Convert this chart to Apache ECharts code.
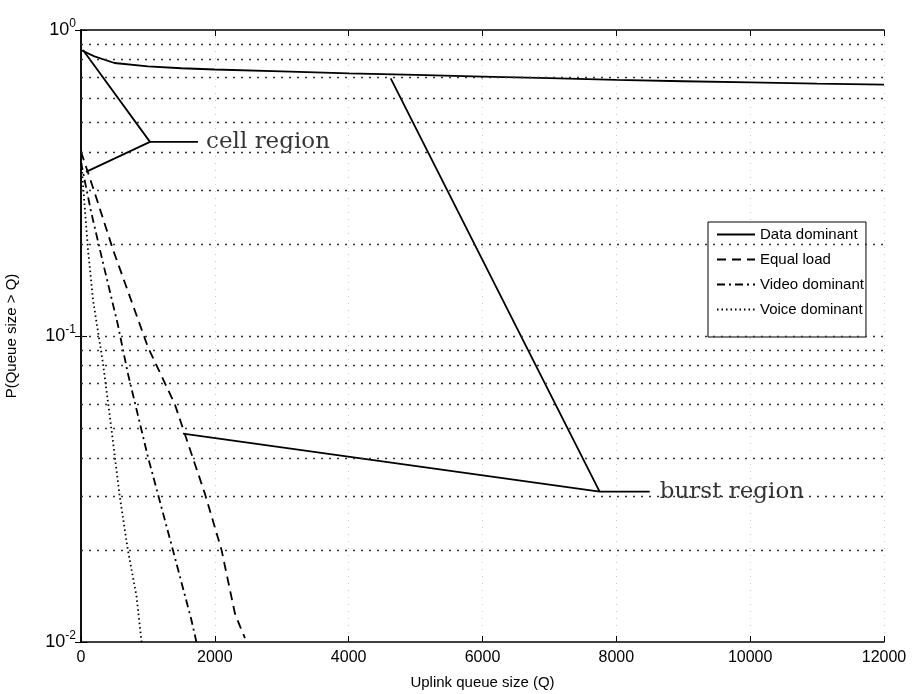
<!DOCTYPE html>
<html>
<head>
<meta charset="utf-8">
<script src="https://cdn.jsdelivr.net/npm/echarts@6/dist/echarts.min.js"></script>
<style>
html,body{margin:0;padding:0;background:#fff;}
#chart{width:913px;height:694px;}
</style>
</head>
<body>
<div id="chart"></div>
<script>
// curves: [Q, P(queue > Q)]
var dataDominant = [[0,0.86],[200,0.82],[500,0.78],[1000,0.76],[1500,0.75],[2000,0.743],[3000,0.733],[4000,0.722],[5000,0.713],[6000,0.704],[7000,0.696],[8000,0.687],[9000,0.68],[10000,0.674],[11000,0.668],[12000,0.663]];
var equalLoad = [[0,0.40],[200,0.296],[480,0.191],[1000,0.092],[1400,0.060],[1850,0.0306],[2100,0.020],[2300,0.0124],[2380,0.0112],[2450,0.0103]];
var videoDominant = [[0,0.37],[150,0.255],[330,0.173],[550,0.109],[700,0.0755],[1000,0.0403],[1400,0.019],[1650,0.0118],[1725,0.010]];
var voiceDominant = [[0,0.38],[55,0.265],[105,0.191],[180,0.131],[330,0.081],[450,0.0506],[580,0.0298],[700,0.020],[830,0.0141],[905,0.010]];
var seriesNames = ['Data dominant','Equal load','Video dominant','Voice dominant'];

// dotted horizontal grid at 2..9 of each decade
var gridVals = [0.02,0.03,0.04,0.05,0.06,0.07,0.08,0.09,0.1,0.2,0.3,0.4,0.5,0.6,0.7,0.8,0.9];
var xTicks = [0,2000,4000,6000,8000,10000,12000];

// annotation pointers
var cellLines = [[30,0.86],[1031,0.431],[75,0.344]];
var cellStub = [[1031,0.431],[1748,0.431]];
var burstLines = [[4628,0.695],[7750,0.031],[1524,0.048]];
var burstStub = [[7750,0.031],[8500,0.031]];
var notes = [[1780,0.431,'cell region'],[8560,0.031,'burst region']];

var chart = echarts.init(document.getElementById('chart'));
var fontSans = 'Liberation Sans';

function supLabel(v){
    var e = Math.round(Math.log(v)/Math.LN10);
    return '{b|10}{s|' + (e === 0 ? '0' : '-' + (-e)) + '}';
}

function lineSeries(name, data, type){
    return {
        name: name,
        type: 'line',
        data: data,
        symbol: 'none',
        showSymbol: false,
        color: '#000',
        itemStyle: {color:'#000'},
        lineStyle: {color:'#000', width:1.8, type:type},
        z: 3
    };
}
function plainLine(data){
    return {type:'line', data:data, symbol:'none', silent:true, color:'#000', lineStyle:{color:'#000', width:1.8}, z:4};
}

var series = [
    lineSeries(seriesNames[0], dataDominant, 'solid'),
    lineSeries(seriesNames[1], equalLoad, [9,6]),
    lineSeries(seriesNames[2], videoDominant, [8,4,2,4]),
    lineSeries(seriesNames[3], voiceDominant, [1.5,3])
];
series[0].markLine = {
    silent: true,
    symbol: 'none',
    label: {show:false},
    lineStyle: {color:'#333', width:1.3, type:[2,6]},
    data: gridVals.map(function(v){ return {yAxis:v}; })
};
series.push(plainLine(cellLines), plainLine(cellStub), plainLine(burstLines), plainLine(burstStub));
series.push({
    type: 'scatter',
    data: notes,
    symbolSize: 0,
    silent: true,
    label: {
        show: true,
        position: 'right',
        distance: 6,
        formatter: function(p){ return p.data[2]; },
        fontFamily: 'DejaVu Serif',
        fontSize: 23,
        color: '#000'
    }
});

var option = {
    animation: false,
    backgroundColor: '#fff',
    grid: {left:81, right:29, top:30, bottom:52, outerBoundsMode:'none', containLabel:false},
    legend: {
        data: seriesNames,
        orient: 'vertical',
        left: 708,
        top: 222,
        itemWidth: 38,
        itemHeight: 14,
        itemGap: 10,
        padding: [5,2,20,8],
        backgroundColor: '#fff',
        borderColor: '#000',
        borderWidth: 1,
        itemStyle: {opacity:0},
        textStyle: {fontFamily:fontSans, fontSize:15, color:'#000'}
    },
    xAxis: [{
        type: 'value',
        min: 0, max: 12000, interval: 2000,
        name: 'Uplink queue size (Q)',
        nameLocation: 'middle',
        nameGap: 33,
        nameTextStyle: {fontFamily:fontSans, fontSize:15, color:'#000'},
        axisLine: {lineStyle:{color:'#000', width:1.5}},
        axisTick: {inside:true, length:6, lineStyle:{color:'#000'}},
        axisLabel: {fontFamily:fontSans, fontSize:16, color:'#000', margin:8,
            formatter: function(v){ return xTicks.indexOf(v) >= 0 ? String(v) : ''; }},
        splitLine: {show:true, lineStyle:{color:'#ccc', type:[1,6]}}
    },{
        type: 'value',
        position: 'top',
        min: 0, max: 12000, interval: 2000,
        axisLine: {lineStyle:{color:'#000', width:1.5}},
        axisTick: {inside:true, length:6, lineStyle:{color:'#000'}},
        axisLabel: {show:false},
        splitLine: {show:false}
    }],
    yAxis: [{
        type: 'log',
        logBase: 10,
        min: 0.01, max: 1,
        name: 'P(Queue size > Q)',
        nameLocation: 'middle',
        nameGap: 62,
        nameTextStyle: {fontFamily:fontSans, fontSize:15, color:'#000'},
        axisLine: {lineStyle:{color:'#000', width:1.5}},
        axisTick: {inside:true, length:6, lineStyle:{color:'#000'}},
        axisLabel: {
            formatter: supLabel,
            margin: 5,
            rich: {
                b: {fontFamily:fontSans, fontSize:18, color:'#000'},
                s: {fontFamily:fontSans, fontSize:12, color:'#000', padding:[0,0,12,0]}
            }
        },
        splitLine: {show:false}
    },{
        type: 'log',
        logBase: 10,
        min: 0.01, max: 1,
        position: 'right',
        axisLine: {lineStyle:{color:'#000', width:1.5}},
        axisTick: {inside:true, length:6, lineStyle:{color:'#000'}},
        axisLabel: {show:false},
        splitLine: {show:false}
    }],
    series: series
};
chart.setOption(option);
</script>
</body>
</html>
